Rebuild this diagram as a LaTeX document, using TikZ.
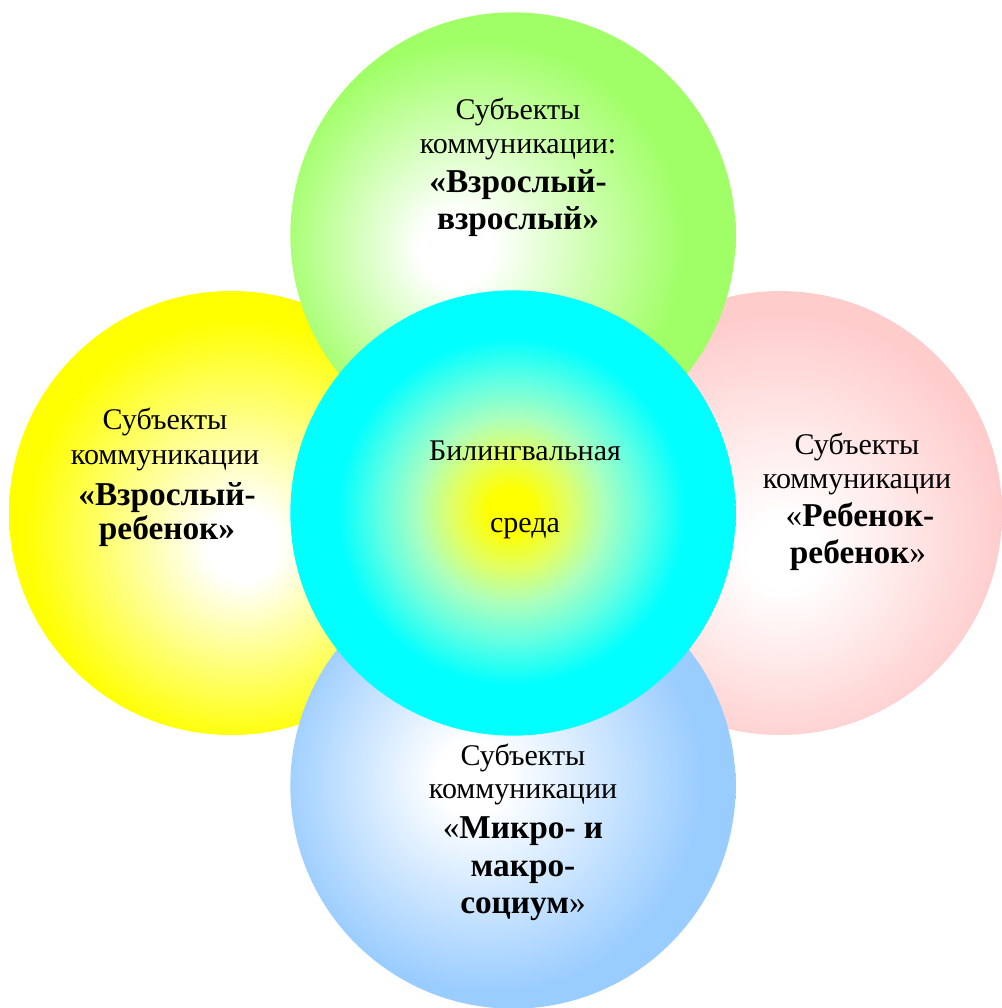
\documentclass[tikz,border=0pt]{standalone}
\usepackage{fontspec}
\setmainfont{Liberation Serif}
\definecolor{cgreen}{RGB}{160,255,102}
\definecolor{cyellow}{RGB}{255,255,0}
\definecolor{cpink}{RGB}{255,204,204}
\definecolor{cblue}{RGB}{153,204,255}
\definecolor{ccyan}{RGB}{0,255,255}
\definecolor{cmidA}{RGB}{225,255,100}
\definecolor{cmidB}{RGB}{170,255,190}
\definecolor{cmidC}{RGB}{100,255,225}
\pgfdeclareradialshading{greensh}{\pgfpoint{-7bp}{-1.7bp}}{color(0bp)=(white); color(4bp)=(white); color(23bp)=(cgreen); color(50bp)=(cgreen)}
\pgfdeclareradialshading{yellowsh}{\pgfpoint{1.5bp}{-4bp}}{color(0bp)=(white); color(4bp)=(white); color(24bp)=(cyellow); color(50bp)=(cyellow)}
\pgfdeclareradialshading{pinksh}{\pgfpoint{0.5bp}{-5bp}}{color(0bp)=(white); color(4bp)=(white); color(25bp)=(cpink); color(50bp)=(cpink)}
\pgfdeclareradialshading{bluesh}{\pgfpoint{-5bp}{1.1bp}}{color(0bp)=(white); color(4bp)=(white); color(24bp)=(cblue); color(50bp)=(cblue)}
\pgfdeclareradialshading{cyansh}{\pgfpoint{-0.3bp}{0.3bp}}{color(0bp)=(cyellow); color(2.5bp)=(cyellow); color(6.5bp)=(cmidA); color(10.5bp)=(cmidB); color(14.5bp)=(cmidC); color(19.5bp)=(ccyan); color(50bp)=(ccyan)}
\tikzset{
  reg/.style={font=\fontsize{22.5}{27}\selectfont, anchor=base, inner sep=0pt},
  bld/.style={font=\fontsize{25}{30}\selectfont\bfseries, anchor=base, inner sep=0pt},
  disc/.style={circle, draw=none, inner sep=0pt, minimum size=#1}
}
\begin{document}
\begin{tikzpicture}[x=0.75pt,y=-0.75pt]
\useasboundingbox (0,0) rectangle (1001,1008);
\fill[white] (0,0) rectangle (1001,1008);
% circles
\node[disc=333pt, shading=yellowsh] (yel) at (231,513) {};
\node[disc=333pt, shading=pinksh] (pnk) at (780,513) {};
\node[disc=334pt, shading=greensh] (grn) at (513,235) {};
\node[disc=334pt, shading=bluesh] (blu) at (513,786) {};
\node[disc=334pt, shading=cyansh] (cyn) at (513,513) {};
% green text
\node[reg] (g1) at (518,119) {Субъекты};
\node[reg] (g2) at (518,153) {коммуникации:};
\node[bld] (g3) at (518,192) {«Взрослый-};
\node[bld] (g4) at (518,229) {взрослый»};
% yellow text
\node[reg] (y1) at (165,429) {Субъекты};
\node[reg] (y2) at (165,464) {коммуникации};
\node[bld] (y3) at (167,505) {«Взрослый-};
\node[bld] (y4) at (167,539) {ребенок»};
% center text
\node[reg] (c1) at (525,460) {Билингвальная};
\node[reg] (c2) at (525,532) {среда};
% pink text
\node[reg] (p1) at (857,454) {Субъекты};
\node[reg] (p2) at (857,488) {коммуникации};
\node[bld] (p3) at (860,526) {{\mdseries«}Ребенок-};
\node[bld] (p4) at (858,563) {ребенок{\mdseries»}};
% blue text
\node[reg] (b1) at (523,765) {Субъекты};
\node[reg] (b2) at (523,798) {коммуникации};
\node[bld] (b3) at (523,838) {{\mdseries«}Микро- и};
\node[bld] (b4) at (523,876) {макро-};
\node[bld] (b5) at (523,913) {социум{\mdseries»}};
\end{tikzpicture}
\end{document}
